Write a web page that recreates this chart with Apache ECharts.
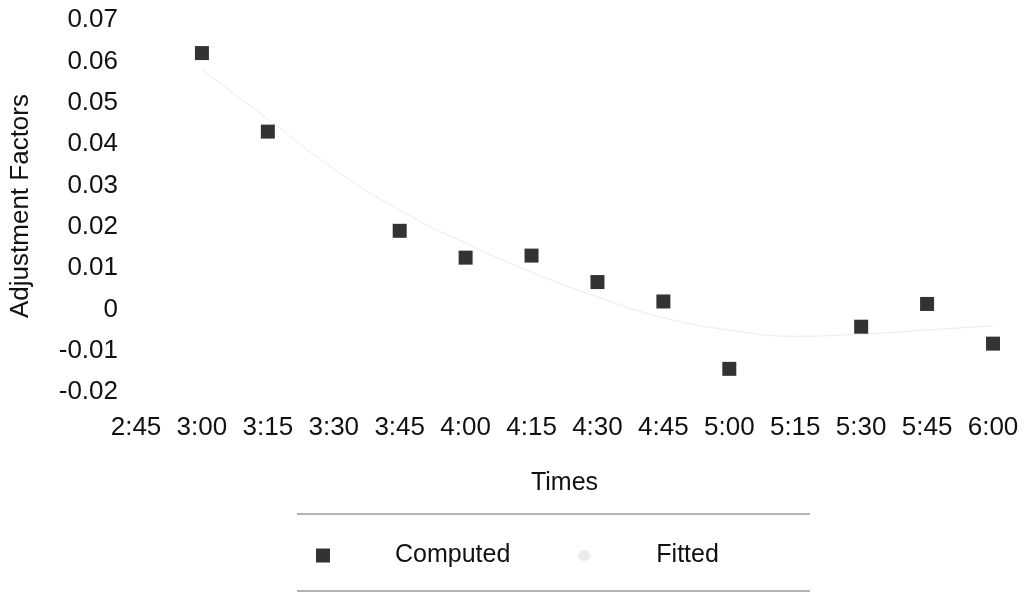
<!DOCTYPE html>
<html>
<head>
<meta charset="utf-8">
<script src="https://cdn.jsdelivr.net/npm/echarts@6/dist/echarts.min.js"></script>
<style>
  html, body { margin: 0; padding: 0; background: #fff; }
  #chart { width: 1028px; height: 597px; }
</style>
</head>
<body>
<div id="chart"></div>
<script>
// Sampling times (15-minute steps)
const times = ['2:45', '3:00', '3:15', '3:30', '3:45', '4:00', '4:15', '4:30', '4:45', '5:00', '5:15', '5:30', '5:45', '6:00'];
// Computed adjustment factors (null = no observation)
const computed = [null, 0.062, 0.043, null, 0.019, 0.0125, 0.013, 0.0066, 0.0019, -0.0144, null, -0.0042, 0.0013, -0.0083];
// Fitted curve values
const fitted = [null, 0.058, 0.046, 0.034, 0.024, 0.016, 0.009, 0.003, -0.002, -0.005, -0.0065, -0.006, -0.005, -0.004];

const FONT = '"Liberation Sans", Arial, Helvetica, sans-serif';
const INK = '#111';

const chart = echarts.init(document.getElementById('chart'), null, { renderer: 'canvas' });

chart.setOption({
  backgroundColor: '#fff',
  animation: false,
  grid: { left: 136, right: 35, top: 20, bottom: 205 },
  xAxis: {
    type: 'category',
    data: times,
    boundaryGap: false,
    axisLine: { show: false },
    axisTick: { show: false },
    splitLine: { show: false },
    axisLabel: { color: INK, fontFamily: FONT, fontSize: 26, margin: 23, interval: 0 },
    name: 'Times',
    nameLocation: 'middle',
    nameGap: 79,
    nameTextStyle: { color: INK, fontFamily: FONT, fontSize: 25 }
  },
  yAxis: {
    type: 'value',
    min: -0.02,
    max: 0.07,
    interval: 0.01,
    axisLine: { show: false },
    axisTick: { show: false },
    splitLine: { show: false },
    axisLabel: {
      color: INK, fontFamily: FONT, fontSize: 26, margin: 18,
      formatter: v => (Math.abs(v) < 1e-9 ? '0' : v.toFixed(2))
    },
    name: 'Adjustment Factors',
    nameLocation: 'middle',
    nameRotate: 90,
    nameGap: 102,
    nameTextStyle: { color: INK, fontFamily: FONT, fontSize: 26 }
  },
  legend: {
    left: 311,
    top: 538,
    itemWidth: 14,
    itemHeight: 14,
    itemGap: 66,
    textStyle: { color: INK, fontFamily: FONT, fontSize: 25, padding: [0, 0, 0, 60] },
    data: [
      { name: 'Computed', icon: 'rect' },
      { name: 'Fitted' }
    ]
  },
  graphic: [
    { type: 'line', shape: { x1: 297, y1: 514, x2: 810, y2: 514 }, style: { stroke: '#666', lineWidth: 1 } },
    { type: 'line', shape: { x1: 297, y1: 591, x2: 810, y2: 591 }, style: { stroke: '#666', lineWidth: 1 } }
  ],
  series: [
    {
      name: 'Fitted',
      type: 'line',
      data: fitted,
      smooth: true,
      showSymbol: false,
      symbol: 'none',
      connectNulls: false,
      lineStyle: { color: '#ebebeb', width: 1 },
      itemStyle: { color: '#ebebeb' },
      z: 1
    },
    {
      name: 'Computed',
      type: 'scatter',
      data: computed,
      symbol: 'rect',
      symbolSize: 14,
      itemStyle: { color: '#000' },
      z: 2
    }
  ]
});
</script>
</body>
</html>
